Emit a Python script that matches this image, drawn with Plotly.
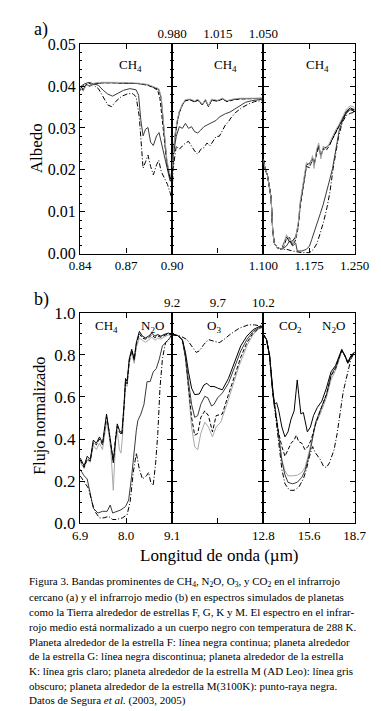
import plotly.graph_objects as go

# ---------------- Panel a1 (0.84-0.90 um) ----------------
A1_X_F = [0.840, 0.842, 0.844, 0.846, 0.849, 0.854, 0.862, 0.870, 0.878, 0.884, 0.888, 0.8912, 0.8928, 0.8941, 0.8953, 0.8965, 0.8980, 0.9000]
A1_Y_F = [0.0393, 0.0391, 0.0403, 0.0401, 0.0405, 0.0408, 0.0408, 0.0407, 0.0406, 0.0403, 0.0397, 0.0392, 0.0372, 0.0325, 0.0266, 0.0220, 0.0192, 0.0168]
A1_X_G = [0.840, 0.842, 0.844, 0.846, 0.849, 0.854, 0.862, 0.870, 0.878, 0.884, 0.888, 0.8905, 0.8920, 0.8935, 0.8950, 0.8965, 0.8980, 0.9000]
A1_Y_G = [0.0390, 0.0395, 0.0404, 0.0399, 0.0406, 0.0408, 0.0408, 0.0407, 0.0406, 0.0402, 0.0396, 0.0390, 0.0370, 0.0320, 0.0262, 0.0215, 0.0188, 0.0165]
A1_X_K = [0.840, 0.842, 0.844, 0.846, 0.849, 0.854, 0.862, 0.870, 0.878, 0.884, 0.888, 0.8912, 0.8928, 0.8941, 0.8953, 0.8965, 0.8980, 0.9000]
A1_Y_K = [0.0395, 0.0388, 0.0402, 0.0400, 0.0407, 0.0409, 0.0409, 0.0408, 0.0407, 0.0404, 0.0398, 0.0394, 0.0375, 0.0328, 0.0270, 0.0224, 0.0196, 0.0173]
A1_X_ADLEO = [0.8400, 0.8427, 0.8457, 0.8488, 0.8519, 0.8550, 0.8580, 0.8611, 0.8642, 0.8683, 0.8724, 0.8765, 0.8781, 0.8795, 0.8810, 0.8826, 0.8842, 0.8859, 0.8877, 0.8898, 0.8914, 0.8928, 0.8945, 0.8965, 0.8986, 0.9000]
A1_Y_ADLEO = [0.0398, 0.0405, 0.0409, 0.0405, 0.0402, 0.0390, 0.0381, 0.0376, 0.0382, 0.0390, 0.0394, 0.0391, 0.0378, 0.0320, 0.0281, 0.0297, 0.0301, 0.0266, 0.0258, 0.0281, 0.0289, 0.0266, 0.0235, 0.0204, 0.0173, 0.0181]
A1_X_M = [0.8400, 0.8427, 0.8457, 0.8488, 0.8519, 0.8550, 0.8580, 0.8605, 0.8631, 0.8672, 0.8713, 0.8744, 0.8765, 0.8785, 0.8799, 0.8810, 0.8826, 0.8842, 0.8859, 0.8877, 0.8898, 0.8912, 0.8928, 0.8949, 0.8969, 0.8986, 0.9000]
A1_Y_M = [0.0394, 0.0402, 0.0407, 0.0402, 0.0394, 0.0374, 0.0355, 0.0351, 0.0363, 0.0376, 0.0382, 0.0382, 0.0374, 0.0328, 0.0258, 0.0204, 0.0219, 0.0235, 0.0208, 0.0188, 0.0212, 0.0223, 0.0196, 0.0181, 0.0165, 0.0146, 0.0126]

# ---------------- Panel a2 (0.980-1.050 um) ----------------
A2_X_K = [0.9800, 0.9819, 0.9838, 0.9854, 0.9878, 0.9901, 0.9937, 0.9972, 0.9996, 1.0031, 1.0055, 1.0078, 1.0102, 1.0149, 1.0184, 1.0220, 1.0267, 1.0314, 1.0385, 1.0455, 1.0500]
A2_Y_K = [0.0205, 0.0280, 0.0318, 0.0340, 0.0357, 0.0368, 0.0369, 0.0365, 0.0369, 0.0357, 0.0369, 0.0353, 0.0369, 0.0366, 0.0371, 0.0365, 0.0369, 0.0371, 0.0371, 0.0371, 0.0371]
A2_X_F = [0.9800, 0.9819, 0.9838, 0.9854, 0.9878, 0.9901, 0.9937, 0.9972, 0.9996, 1.0031, 1.0055, 1.0078, 1.0102, 1.0149, 1.0184, 1.0220, 1.0267, 1.0314, 1.0385, 1.0455, 1.0500]
A2_Y_F = [0.0198, 0.0276, 0.0315, 0.0338, 0.0356, 0.0366, 0.0368, 0.0363, 0.0367, 0.0356, 0.0367, 0.0352, 0.0367, 0.0365, 0.0370, 0.0364, 0.0368, 0.0370, 0.0370, 0.0371, 0.0371]
A2_X_G = [0.9800, 0.9819, 0.9838, 0.9854, 0.9878, 0.9901, 0.9937, 0.9972, 0.9996, 1.0031, 1.0055, 1.0078, 1.0102, 1.0149, 1.0184, 1.0220, 1.0267, 1.0314, 1.0385, 1.0455, 1.0500]
A2_Y_G = [0.0195, 0.0272, 0.0312, 0.0336, 0.0355, 0.0365, 0.0367, 0.0362, 0.0366, 0.0355, 0.0366, 0.0351, 0.0366, 0.0364, 0.0369, 0.0363, 0.0367, 0.0369, 0.0370, 0.0370, 0.0370]
A2_X_ADLEO = [0.9800, 0.9807, 0.9831, 0.9854, 0.9878, 0.9901, 0.9925, 0.9948, 0.9972, 0.9996, 1.0019, 1.0043, 1.0067, 1.0090, 1.0113, 1.0137, 1.0161, 1.0184, 1.0208, 1.0243, 1.0278, 1.0314, 1.0361, 1.0408, 1.0455, 1.0500]
A2_Y_ADLEO = [0.0187, 0.0234, 0.0280, 0.0303, 0.0299, 0.0311, 0.0299, 0.0303, 0.0291, 0.0288, 0.0295, 0.0303, 0.0307, 0.0311, 0.0315, 0.0318, 0.0326, 0.0330, 0.0334, 0.0338, 0.0345, 0.0353, 0.0361, 0.0365, 0.0367, 0.0369]
A2_X_M = [0.9800, 0.9807, 0.9831, 0.9854, 0.9878, 0.9901, 0.9925, 0.9948, 0.9972, 0.9996, 1.0019, 1.0043, 1.0067, 1.0090, 1.0113, 1.0137, 1.0161, 1.0184, 1.0208, 1.0231, 1.0255, 1.0290, 1.0337, 1.0385, 1.0432, 1.0500]
A2_Y_M = [0.0149, 0.0203, 0.0257, 0.0249, 0.0257, 0.0264, 0.0268, 0.0257, 0.0245, 0.0237, 0.0249, 0.0253, 0.0264, 0.0257, 0.0268, 0.0280, 0.0280, 0.0295, 0.0307, 0.0315, 0.0326, 0.0338, 0.0349, 0.0357, 0.0363, 0.0366]

# ---------------- Panel a3 (1.100-1.250 um) ----------------
A3_X_K = [1.1000, 1.1025, 1.1066, 1.1101, 1.1126, 1.1152, 1.1177, 1.1227, 1.1303, 1.1328, 1.1379, 1.1429, 1.1480, 1.1530, 1.1571, 1.1606, 1.1657, 1.1707, 1.1758, 1.1808, 1.1833, 1.1874, 1.1909, 1.1944, 1.1985, 1.2035, 1.2086, 1.2136, 1.2187, 1.2237, 1.2288, 1.2364, 1.2429, 1.2500]
A3_Y_K = [0.0225, 0.0203, 0.0187, 0.0157, 0.0133, 0.0056, 0.0025, 0.0014, 0.0010, 0.0018, 0.0045, 0.0033, 0.0025, 0.0037, 0.0072, 0.0126, 0.0172, 0.0218, 0.0210, 0.0234, 0.0203, 0.0249, 0.0264, 0.0226, 0.0257, 0.0249, 0.0264, 0.0280, 0.0295, 0.0307, 0.0322, 0.0345, 0.0353, 0.0349]
A3_X_F = [1.1000, 1.1025, 1.1066, 1.1101, 1.1126, 1.1152, 1.1177, 1.1227, 1.1303, 1.1328, 1.1379, 1.1429, 1.1480, 1.1530, 1.1571, 1.1606, 1.1657, 1.1707, 1.1758, 1.1808, 1.1833, 1.1874, 1.1909, 1.1944, 1.1985, 1.2035, 1.2086, 1.2136, 1.2187, 1.2237, 1.2288, 1.2364, 1.2429, 1.2500]
A3_Y_F = [0.0225, 0.0203, 0.0187, 0.0157, 0.0133, 0.0056, 0.0025, 0.0014, 0.0010, 0.0022, 0.0040, 0.0028, 0.0030, 0.0040, 0.0068, 0.0120, 0.0168, 0.0212, 0.0215, 0.0228, 0.0210, 0.0244, 0.0258, 0.0232, 0.0252, 0.0254, 0.0260, 0.0276, 0.0292, 0.0304, 0.0318, 0.0340, 0.0348, 0.0343]
A3_X_G = [1.1000, 1.1025, 1.1066, 1.1101, 1.1126, 1.1152, 1.1177, 1.1227, 1.1303, 1.1328, 1.1379, 1.1429, 1.1480, 1.1530, 1.1571, 1.1606, 1.1657, 1.1707, 1.1758, 1.1808, 1.1833, 1.1874, 1.1909, 1.1944, 1.1985, 1.2035, 1.2086, 1.2136, 1.2187, 1.2237, 1.2288, 1.2364, 1.2429, 1.2500]
A3_Y_G = [0.0225, 0.0203, 0.0187, 0.0157, 0.0133, 0.0056, 0.0025, 0.0014, 0.0010, 0.0015, 0.0035, 0.0038, 0.0020, 0.0032, 0.0062, 0.0115, 0.0165, 0.0208, 0.0205, 0.0226, 0.0215, 0.0240, 0.0255, 0.0235, 0.0250, 0.0247, 0.0258, 0.0274, 0.0290, 0.0302, 0.0316, 0.0336, 0.0344, 0.0340]
A3_X_ADLEO = [1.1000, 1.1025, 1.1066, 1.1101, 1.1126, 1.1152, 1.1177, 1.1227, 1.1303, 1.1379, 1.1429, 1.1480, 1.1530, 1.1556, 1.1631, 1.1707, 1.1758, 1.1793, 1.1833, 1.1884, 1.1934, 1.1985, 1.2045, 1.2096, 1.2136, 1.2187, 1.2247, 1.2313, 1.2389, 1.2500]
A3_Y_ADLEO = [0.0225, 0.0203, 0.0187, 0.0157, 0.0133, 0.0056, 0.0025, 0.0014, 0.0010, 0.0018, 0.0030, 0.0018, 0.0025, 0.0006, 0.0006, 0.0010, 0.0018, 0.0033, 0.0052, 0.0072, 0.0095, 0.0118, 0.0149, 0.0180, 0.0203, 0.0249, 0.0295, 0.0322, 0.0342, 0.0345]
A3_X_M = [1.1000, 1.1025, 1.1066, 1.1101, 1.1126, 1.1152, 1.1177, 1.1227, 1.1303, 1.1379, 1.1480, 1.1631, 1.1758, 1.1823, 1.1884, 1.1934, 1.1995, 1.2045, 1.2096, 1.2146, 1.2187, 1.2237, 1.2298, 1.2364, 1.2429, 1.2500]
A3_Y_M = [0.0225, 0.0203, 0.0187, 0.0157, 0.0133, 0.0056, 0.0025, 0.0014, 0.0010, 0.0010, 0.0006, 0.0002, 0.0002, 0.0010, 0.0025, 0.0049, 0.0079, 0.0110, 0.0149, 0.0203, 0.0241, 0.0280, 0.0314, 0.0330, 0.0335, 0.0338]

# ---------------- Panel b1 (6.9-9.1 um) ----------------
B1_X = [6.900, 6.995, 7.069, 7.142, 7.215, 7.289, 7.362, 7.435, 7.531, 7.582, 7.633, 7.692, 7.751, 7.787, 7.839, 7.897, 7.949, 7.985, 8.022, 8.073, 8.132, 8.191, 8.242, 8.315, 8.389, 8.462, 8.535, 8.609, 8.682, 8.755, 8.829, 8.902, 9.012, 9.100]
B1_Y_F = [0.310, 0.272, 0.318, 0.302, 0.395, 0.380, 0.410, 0.380, 0.519, 0.457, 0.380, 0.287, 0.426, 0.472, 0.441, 0.426, 0.565, 0.688, 0.673, 0.781, 0.827, 0.781, 0.858, 0.912, 0.889, 0.881, 0.889, 0.904, 0.889, 0.897, 0.889, 0.897, 0.904, 0.897]
B1_Y_G = [0.300, 0.265, 0.305, 0.295, 0.385, 0.372, 0.400, 0.372, 0.505, 0.450, 0.372, 0.300, 0.418, 0.460, 0.432, 0.420, 0.555, 0.675, 0.662, 0.770, 0.820, 0.775, 0.850, 0.900, 0.880, 0.875, 0.882, 0.895, 0.882, 0.890, 0.884, 0.892, 0.900, 0.895]
B1_X_K = [6.900, 6.995, 7.069, 7.142, 7.215, 7.289, 7.362, 7.435, 7.531, 7.582, 7.633, 7.692, 7.751, 7.787, 7.839, 7.875, 7.912, 7.949, 7.985, 8.022, 8.073, 8.132, 8.191, 8.242, 8.315, 8.389, 8.462, 8.535, 8.609, 8.682, 8.755, 8.829, 8.902, 9.012, 9.100]
B1_Y_K = [0.290, 0.260, 0.300, 0.290, 0.370, 0.350, 0.380, 0.350, 0.480, 0.430, 0.349, 0.156, 0.400, 0.440, 0.349, 0.333, 0.410, 0.540, 0.660, 0.650, 0.760, 0.810, 0.760, 0.835, 0.880, 0.870, 0.860, 0.870, 0.885, 0.870, 0.880, 0.875, 0.885, 0.895, 0.890]
B1_X_ADLEO = [6.900, 6.995, 7.069, 7.142, 7.215, 7.325, 7.435, 7.545, 7.619, 7.677, 7.765, 7.875, 7.985, 8.059, 8.132, 8.191, 8.242, 8.279, 8.352, 8.425, 8.499, 8.572, 8.645, 8.719, 8.792, 8.865, 8.939, 9.012, 9.100]
B1_Y_ADLEO = [0.256, 0.225, 0.210, 0.133, 0.071, 0.048, 0.056, 0.056, 0.086, 0.048, 0.056, 0.063, 0.079, 0.110, 0.225, 0.349, 0.441, 0.488, 0.519, 0.565, 0.673, 0.673, 0.719, 0.735, 0.781, 0.843, 0.858, 0.873, 0.897]
B1_X_M = [6.900, 6.995, 7.105, 7.179, 7.252, 7.362, 7.472, 7.582, 7.677, 7.765, 7.912, 8.022, 8.095, 8.169, 8.242, 8.315, 8.389, 8.484, 8.535, 8.587, 8.645, 8.704, 8.755, 8.807, 8.865, 8.939, 9.012, 9.100]
B1_Y_M = [0.225, 0.194, 0.164, 0.102, 0.056, 0.025, 0.025, 0.032, 0.017, 0.017, 0.025, 0.040, 0.102, 0.241, 0.333, 0.256, 0.210, 0.225, 0.241, 0.194, 0.179, 0.287, 0.426, 0.642, 0.781, 0.858, 0.873, 0.897]

# ---------------- Panel b2 (9.2-10.2 um) ----------------
B2_X_F = [9.200, 9.261, 9.311, 9.345, 9.378, 9.412, 9.446, 9.496, 9.547, 9.580, 9.614, 9.658, 9.698, 9.749, 9.816, 9.884, 9.951, 10.018, 10.086, 10.153, 10.200]
B2_Y_F = [0.897, 0.892, 0.873, 0.812, 0.719, 0.642, 0.611, 0.614, 0.657, 0.665, 0.650, 0.650, 0.642, 0.634, 0.688, 0.765, 0.843, 0.889, 0.920, 0.935, 0.938]
B2_X_ADLEO = [9.200, 9.261, 9.311, 9.345, 9.378, 9.412, 9.446, 9.479, 9.513, 9.557, 9.591, 9.631, 9.658, 9.698, 9.749, 9.816, 9.884, 9.951, 10.018, 10.086, 10.153, 10.200]
B2_Y_ADLEO = [0.897, 0.892, 0.870, 0.796, 0.673, 0.565, 0.503, 0.511, 0.565, 0.603, 0.596, 0.557, 0.565, 0.596, 0.619, 0.665, 0.742, 0.819, 0.873, 0.912, 0.930, 0.935]
B2_X_G = [9.200, 9.261, 9.311, 9.345, 9.378, 9.412, 9.446, 9.479, 9.513, 9.557, 9.597, 9.641, 9.681, 9.749, 9.816, 9.884, 9.951, 10.018, 10.086, 10.153, 10.200]
B2_Y_G = [0.897, 0.892, 0.870, 0.789, 0.650, 0.503, 0.418, 0.426, 0.503, 0.534, 0.511, 0.434, 0.511, 0.519, 0.611, 0.701, 0.789, 0.858, 0.904, 0.927, 0.935]
B2_X_K = [9.200, 9.261, 9.311, 9.345, 9.378, 9.412, 9.446, 9.479, 9.513, 9.557, 9.597, 9.641, 9.681, 9.732, 9.799, 9.867, 9.934, 10.018, 10.086, 10.153, 10.200]
B2_Y_K = [0.897, 0.892, 0.870, 0.781, 0.634, 0.457, 0.364, 0.349, 0.426, 0.480, 0.457, 0.410, 0.457, 0.480, 0.565, 0.657, 0.750, 0.843, 0.897, 0.925, 0.932]
B2_X_M = [9.200, 9.294, 9.362, 9.412, 9.463, 9.496, 9.547, 9.597, 9.665, 9.715, 9.766, 9.833, 9.934, 10.035, 10.102, 10.200]
B2_Y_M = [0.897, 0.889, 0.873, 0.843, 0.812, 0.819, 0.850, 0.873, 0.866, 0.858, 0.873, 0.897, 0.927, 0.943, 0.943, 0.935]

# ---------------- Panel b3 (12.8-18.7 um) ----------------
B3_X_F = [12.800, 12.999, 13.197, 13.396, 13.495, 13.654, 13.793, 13.992, 14.191, 14.389, 14.588, 14.786, 14.886, 14.985, 15.084, 15.224, 15.382, 15.482, 15.641, 15.839, 16.038, 16.276, 16.575, 16.872, 17.170, 17.468, 17.707, 17.866, 18.064, 18.263, 18.462, 18.700]
B3_Y_F = [0.897, 0.873, 0.796, 0.642, 0.565, 0.573, 0.534, 0.457, 0.410, 0.434, 0.495, 0.534, 0.627, 0.681, 0.611, 0.519, 0.526, 0.488, 0.434, 0.457, 0.511, 0.549, 0.580, 0.642, 0.719, 0.750, 0.796, 0.827, 0.796, 0.765, 0.796, 0.812]
B3_X_G = [12.800, 12.999, 13.197, 13.396, 13.595, 13.793, 13.992, 14.191, 14.389, 14.588, 14.786, 14.926, 15.084, 15.283, 15.482, 15.680, 15.879, 16.177, 16.475, 16.872, 17.170, 17.468, 17.707, 17.866, 18.064, 18.263, 18.462, 18.700]
B3_Y_G = [0.897, 0.873, 0.796, 0.627, 0.519, 0.426, 0.364, 0.318, 0.349, 0.380, 0.395, 0.418, 0.387, 0.380, 0.349, 0.364, 0.395, 0.472, 0.534, 0.611, 0.701, 0.735, 0.789, 0.819, 0.796, 0.758, 0.789, 0.812]
B3_X_K = [12.800, 12.999, 13.197, 13.396, 13.595, 13.793, 13.992, 14.191, 14.389, 14.687, 14.985, 15.283, 15.482, 15.680, 15.879, 16.177, 16.475, 16.872, 17.170, 17.468, 17.707, 17.866, 18.064, 18.263, 18.462, 18.700]
B3_Y_K = [0.897, 0.873, 0.796, 0.627, 0.519, 0.410, 0.302, 0.248, 0.225, 0.225, 0.228, 0.241, 0.264, 0.318, 0.380, 0.472, 0.519, 0.596, 0.681, 0.727, 0.781, 0.819, 0.796, 0.758, 0.789, 0.812]
B3_X_ADLEO = [12.800, 12.999, 13.197, 13.396, 13.595, 13.793, 13.992, 14.191, 14.389, 14.687, 14.985, 15.283, 15.482, 15.680, 15.879, 16.177, 16.475, 16.872, 17.170, 17.468, 17.707, 17.866, 18.064, 18.263, 18.462, 18.700]
B3_Y_ADLEO = [0.897, 0.873, 0.796, 0.635, 0.526, 0.410, 0.295, 0.230, 0.194, 0.187, 0.194, 0.218, 0.248, 0.302, 0.364, 0.480, 0.534, 0.611, 0.701, 0.742, 0.789, 0.822, 0.800, 0.765, 0.796, 0.815]
B3_X_M = [12.800, 12.999, 13.197, 13.396, 13.595, 13.793, 13.992, 14.191, 14.489, 14.786, 15.084, 15.382, 15.581, 15.780, 15.978, 16.177, 16.475, 16.674, 16.872, 17.071, 17.369, 17.568, 17.767, 17.965, 18.263, 18.462, 18.700]
B3_Y_M = [0.897, 0.873, 0.796, 0.619, 0.503, 0.380, 0.256, 0.187, 0.156, 0.156, 0.171, 0.210, 0.256, 0.318, 0.364, 0.333, 0.302, 0.272, 0.264, 0.287, 0.349, 0.426, 0.534, 0.627, 0.719, 0.781, 0.812]

# ---------------- Axis ticks / labels ----------------
A1_TICKS = [0.84, 0.87, 0.90]
A1_TICKTEXT = ["0.84", "0.87", "0.90"]
A2_TICKS = [0.980, 1.015, 1.050]
A2_TICKTEXT = ["0.980", "1.015", "1.050"]
A3_TICKS = [1.100, 1.175, 1.250]
A3_TICKTEXT = ["1.100", "1.175", "1.250"]
A_YTICKS = [0.00, 0.01, 0.02, 0.03, 0.04, 0.05]
A_YTICKTEXT = ["0.00", "0.01", "0.02", "0.03", "0.04", "0.05"]
B1_TICKS = [6.9, 8.0, 9.1]
B1_TICKTEXT = ["6.9", "8.0", "9.1"]
B2_TICKS = [9.2, 9.7, 10.2]
B2_TICKTEXT = ["9.2", "9.7", "10.2"]
B3_TICKS = [12.8, 15.75, 18.7]
B3_TICKTEXT = ["12.8", "15.6", "18.7"]
B_YTICKS = [0.0, 0.2, 0.4, 0.6, 0.8, 1.0]
B_YTICKTEXT = ["0.0", "0.2", "0.4", "0.6", "0.8", "1.0"]

CAPTION = [
    "Figura 3. Bandas prominentes de CH<sub>4</sub>, N<sub>2</sub>O, O<sub>3</sub>, y CO<sub>2</sub> en el infrarrojo",
    "cercano (a) y el infrarrojo medio (b) en espectros simulados de planetas",
    "como la Tierra alrededor de estrellas F, G, K y M. El espectro en el infrar-",
    "rojo medio está normalizado a un cuerpo negro con temperatura de 288 K.",
    "Planeta alrededor de la estrella F: línea negra continua; planeta alrededor",
    "de la estrella G: línea negra discontinua; planeta alrededor de la estrella",
    "K: línea gris claro; planeta alrededor de la estrella M (AD Leo): línea gris",
    "obscuro; planeta alrededor de la estrella M(3100K): punto-raya negra.",
    "Datos de Segura <i>et al.</i> (2003, 2005)",
]

W, H = 381, 711
FONT = "Liberation Serif"

STYLE = {
    "F": dict(color="black", width=1.0, dash="solid"),
    "G": dict(color="black", width=1.0, dash="4px,2px"),
    "K": dict(color="#a8a8a8", width=1.0, dash="solid"),
    "ADLEO": dict(color="#3a3a3a", width=1.0, dash="solid"),
    "M": dict(color="black", width=1.0, dash="5px,2px,1px,2px"),
}

fig = go.Figure()

def add(x, y, key, ax):
    fig.add_trace(go.Scatter(x=x, y=y, mode="lines", line=STYLE[key],
                             xaxis="x" + ax, yaxis="y" + ax, showlegend=False,
                             hoverinfo="skip"))

# panel a
add(A1_X_M, A1_Y_M, "M", "1"); add(A1_X_ADLEO, A1_Y_ADLEO, "ADLEO", "1")
add(A1_X_G, A1_Y_G, "G", "1"); add(A1_X_F, A1_Y_F, "F", "1"); add(A1_X_K, A1_Y_K, "K", "1")
add(A2_X_M, A2_Y_M, "M", "2"); add(A2_X_ADLEO, A2_Y_ADLEO, "ADLEO", "2")
add(A2_X_G, A2_Y_G, "G", "2"); add(A2_X_F, A2_Y_F, "F", "2"); add(A2_X_K, A2_Y_K, "K", "2")
add(A3_X_M, A3_Y_M, "M", "3"); add(A3_X_ADLEO, A3_Y_ADLEO, "ADLEO", "3")
add(A3_X_G, A3_Y_G, "G", "3"); add(A3_X_F, A3_Y_F, "F", "3"); add(A3_X_K, A3_Y_K, "K", "3")
# panel b
add(B1_X_K, B1_Y_K, "K", "4"); add(B1_X, B1_Y_G, "G", "4"); add(B1_X, B1_Y_F, "F", "4")
add(B1_X_ADLEO, B1_Y_ADLEO, "ADLEO", "4"); add(B1_X_M, B1_Y_M, "M", "4")
add(B2_X_K, B2_Y_K, "K", "5"); add(B2_X_G, B2_Y_G, "G", "5"); add(B2_X_ADLEO, B2_Y_ADLEO, "ADLEO", "5")
add(B2_X_F, B2_Y_F, "F", "5"); add(B2_X_M, B2_Y_M, "M", "5")
add(B3_X_K, B3_Y_K, "K", "6"); add(B3_X_ADLEO, B3_Y_ADLEO, "ADLEO", "6"); add(B3_X_G, B3_Y_G, "G", "6")
add(B3_X_F, B3_Y_F, "F", "6"); add(B3_X_M, B3_Y_M, "M", "6")

XD = [[62 / W, 162 / W], [162 / W, 261 / W], [261 / W, 360 / W]]
YD_A = [1 - 243 / H, 1 - 28 / H]
YD_B = [1 - 520 / H, 1 - 304 / H]

def xax(dom, rng, tv, tt, side, anchor):
    return dict(domain=dom, range=rng, tickvals=tv, ticktext=tt, side=side,
                anchor=anchor, showline=True, linecolor="black", linewidth=1.2,
                mirror="ticks", ticks="inside", ticklen=5, tickwidth=1, tickcolor="black",
                showgrid=False, zeroline=False, fixedrange=True,
                tickfont=dict(family=FONT, size=13, color="black"))

def yax(dom, rng, tv, tt, show, anchor, minor_dt, size):
    return dict(domain=dom, range=rng, tickvals=tv, ticktext=tt, showticklabels=show,
                anchor=anchor, showline=True, linecolor="black", linewidth=1.2,
                mirror="ticks", ticks="inside", ticklen=5, tickwidth=1, tickcolor="black",
                minor=dict(ticks="inside", ticklen=2, tickwidth=1, tickcolor="black", dtick=minor_dt, tick0=0),
                showgrid=False, zeroline=False, fixedrange=True,
                tickfont=dict(family=FONT, size=size, color="black"))

layout = dict(
    width=W, height=H, autosize=False, margin=dict(l=0, r=0, t=0, b=0),
    paper_bgcolor="white", plot_bgcolor="white", showlegend=False,
    font=dict(family=FONT, color="black"),
)
layout["xaxis"] = xax(XD[0], [0.84, 0.90], A1_TICKS, A1_TICKTEXT, "bottom", "y")
layout["xaxis2"] = xax(XD[1], [0.98, 1.05], A2_TICKS, A2_TICKTEXT, "top", "y2")
layout["xaxis3"] = xax(XD[2], [1.10, 1.25], A3_TICKS, A3_TICKTEXT, "bottom", "y3")
layout["xaxis4"] = xax(XD[0], [6.9, 9.1], B1_TICKS, B1_TICKTEXT, "bottom", "y4")
layout["xaxis5"] = xax(XD[1], [9.2, 10.2], B2_TICKS, B2_TICKTEXT, "top", "y5")
layout["xaxis6"] = xax(XD[2], [12.8, 18.7], B3_TICKS, B3_TICKTEXT, "bottom", "y6")
layout["yaxis"] = yax(YD_A, [0, 0.05], A_YTICKS, A_YTICKTEXT, True, "x", 0.002, 16)
layout["yaxis2"] = yax(YD_A, [0, 0.05], A_YTICKS, A_YTICKTEXT, False, "x2", 0.002, 16)
layout["yaxis3"] = yax(YD_A, [0, 0.05], A_YTICKS, A_YTICKTEXT, False, "x3", 0.002, 16)
layout["yaxis4"] = yax(YD_B, [0, 1.0], B_YTICKS, B_YTICKTEXT, True, "x4", 0.05, 17)
layout["yaxis5"] = yax(YD_B, [0, 1.0], B_YTICKS, B_YTICKTEXT, False, "x5", 0.05, 17)
layout["yaxis6"] = yax(YD_B, [0, 1.0], B_YTICKS, B_YTICKTEXT, False, "x6", 0.05, 17)

def pa(text, px, py, size, xanchor="center", yanchor="middle", angle=0):
    return dict(text=text, x=px / W, y=1 - py / H, xref="paper", yref="paper",
                xanchor=xanchor, yanchor=yanchor, showarrow=False, textangle=angle,
                font=dict(family=FONT, size=size, color="black"))

ann = [
    pa("a)", 10, 13, 18, xanchor="left"),
    pa("b)", 10, 290, 18, xanchor="left"),
    pa("Albedo", 15, 135, 17, angle=-90),
    pa("Flujo normalizado", 18, 410, 16, angle=-90),
    pa("Longitud de onda (µm)", 213, 553, 17),
    pa("CH<sub>4</sub>", 117, 50, 13),
    pa("CH<sub>4</sub>", 220, 50, 13),
    pa("CH<sub>4</sub>", 320, 50, 13),
    pa("CH<sub>4</sub>", 91, 318, 13),
    pa("N<sub>2</sub>O", 141, 318, 13),
    pa("O<sub>3</sub>", 207, 318, 13),
    pa("CO<sub>2</sub>", 290, 318, 13),
    pa("N<sub>2</sub>O", 337, 318, 13),
]

for i, line in enumerate(CAPTION):
    ann.append(pa(line, 4, 581 + i * 15.2, 11.0, xanchor="left"))

layout["annotations"] = ann
fig.update_layout(**layout)
fig.write_html("out.html")
